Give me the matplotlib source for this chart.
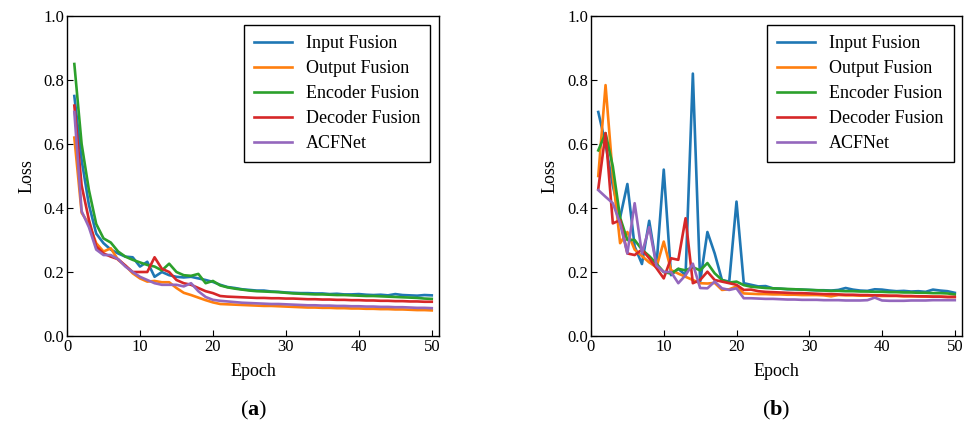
import matplotlib
matplotlib.use("Agg")
import matplotlib.pyplot as plt
import numpy as np

epochs = list(range(1, 51))
series_names = ["Input Fusion", "Output Fusion", "Encoder Fusion",
                "Decoder Fusion", "ACFNet"]
series_colors = ["#1f77b4", "#ff7f0e", "#2ca02c", "#d62728", "#9467bd"]

# (a) loss curves
a_input = [0.75, 0.55, 0.41, 0.32, 0.29, 0.27, 0.258, 0.248, 0.246, 0.217,
           0.232, 0.185, 0.200, 0.190, 0.185, 0.183, 0.185, 0.180, 0.175, 0.169,
           0.160, 0.153, 0.150, 0.146, 0.144, 0.142, 0.142, 0.139, 0.138, 0.136,
           0.135, 0.134, 0.134, 0.133, 0.133, 0.131, 0.132, 0.130, 0.130, 0.131,
           0.129, 0.128, 0.129, 0.127, 0.131, 0.128, 0.127, 0.126, 0.128, 0.127]
a_output = [0.62, 0.385, 0.35, 0.29, 0.264, 0.274, 0.238, 0.22, 0.196, 0.180,
            0.170, 0.172, 0.168, 0.168, 0.150, 0.135, 0.128, 0.120, 0.112, 0.105,
            0.100, 0.099, 0.098, 0.097, 0.096, 0.095, 0.094, 0.094, 0.093, 0.092,
            0.091, 0.090, 0.089, 0.089, 0.088, 0.088, 0.087, 0.087, 0.086, 0.086,
            0.085, 0.085, 0.084, 0.084, 0.083, 0.083, 0.082, 0.081, 0.081, 0.080]
a_encoder = [0.85, 0.60, 0.456, 0.35, 0.305, 0.292, 0.264, 0.248, 0.238, 0.230,
             0.222, 0.217, 0.205, 0.226, 0.200, 0.190, 0.188, 0.194, 0.165, 0.172,
             0.158, 0.152, 0.148, 0.145, 0.142, 0.140, 0.139, 0.138, 0.137, 0.135,
             0.133, 0.132, 0.131, 0.130, 0.130, 0.129, 0.128, 0.128, 0.127, 0.126,
             0.125, 0.125, 0.124, 0.123, 0.122, 0.121, 0.120, 0.119, 0.117, 0.116]
a_decoder = [0.72, 0.47, 0.363, 0.28, 0.258, 0.248, 0.240, 0.220, 0.200, 0.200,
             0.200, 0.246, 0.210, 0.200, 0.175, 0.165, 0.160, 0.150, 0.140, 0.134,
             0.125, 0.123, 0.122, 0.121, 0.120, 0.119, 0.119, 0.118, 0.118, 0.117,
             0.117, 0.116, 0.115, 0.115, 0.114, 0.114, 0.113, 0.113, 0.112, 0.112,
             0.111, 0.111, 0.110, 0.110, 0.109, 0.109, 0.108, 0.108, 0.107, 0.107]
a_acfnet = [0.70, 0.39, 0.34, 0.27, 0.253, 0.253, 0.240, 0.217, 0.200, 0.185,
            0.175, 0.165, 0.160, 0.160, 0.160, 0.155, 0.165, 0.140, 0.122, 0.113,
            0.110, 0.108, 0.106, 0.104, 0.103, 0.102, 0.101, 0.100, 0.100, 0.099,
            0.098, 0.097, 0.096, 0.096, 0.095, 0.095, 0.094, 0.094, 0.093, 0.093,
            0.092, 0.092, 0.091, 0.091, 0.090, 0.090, 0.089, 0.088, 0.088, 0.087]

# (b) loss curves
b_input = [0.70, 0.60, 0.47, 0.37, 0.475, 0.28, 0.225, 0.36, 0.22, 0.52,
           0.19, 0.21, 0.19, 0.82, 0.17, 0.325, 0.258, 0.175, 0.17, 0.42,
           0.165, 0.160, 0.155, 0.156, 0.149, 0.148, 0.146, 0.146, 0.145, 0.144,
           0.143, 0.143, 0.142, 0.144, 0.150, 0.145, 0.142, 0.141, 0.146, 0.145,
           0.142, 0.140, 0.141, 0.139, 0.140, 0.138, 0.145, 0.142, 0.140, 0.135]
b_output = [0.50, 0.784, 0.50, 0.29, 0.325, 0.27, 0.25, 0.23, 0.215, 0.295,
            0.206, 0.195, 0.185, 0.175, 0.165, 0.164, 0.166, 0.144, 0.146, 0.155,
            0.133, 0.132, 0.131, 0.131, 0.130, 0.130, 0.129, 0.129, 0.128, 0.128,
            0.128, 0.127, 0.124, 0.128, 0.127, 0.127, 0.126, 0.126, 0.126, 0.125,
            0.125, 0.125, 0.124, 0.124, 0.124, 0.123, 0.123, 0.123, 0.122, 0.122]
b_encoder = [0.58, 0.634, 0.53, 0.37, 0.30, 0.30, 0.27, 0.25, 0.226, 0.20,
             0.195, 0.21, 0.205, 0.215, 0.205, 0.228, 0.196, 0.175, 0.167, 0.170,
             0.159, 0.154, 0.152, 0.150, 0.149, 0.148, 0.147, 0.146, 0.145, 0.144,
             0.143, 0.142, 0.141, 0.141, 0.140, 0.140, 0.139, 0.139, 0.138, 0.138,
             0.137, 0.137, 0.136, 0.136, 0.135, 0.135, 0.134, 0.134, 0.133, 0.130]
b_decoder = [0.46, 0.634, 0.352, 0.362, 0.258, 0.253, 0.27, 0.243, 0.212, 0.18,
             0.243, 0.238, 0.368, 0.165, 0.175, 0.201, 0.175, 0.170, 0.165, 0.160,
             0.144, 0.145, 0.140, 0.138, 0.137, 0.136, 0.135, 0.134, 0.134, 0.133,
             0.132, 0.131, 0.131, 0.130, 0.129, 0.129, 0.128, 0.128, 0.127, 0.127,
             0.126, 0.126, 0.125, 0.125, 0.124, 0.124, 0.123, 0.123, 0.122, 0.122]
b_acfnet = [0.456, 0.435, 0.415, 0.352, 0.258, 0.415, 0.258, 0.34, 0.22, 0.20,
            0.20, 0.165, 0.19, 0.226, 0.15, 0.149, 0.17, 0.149, 0.144, 0.149,
            0.118, 0.118, 0.117, 0.116, 0.116, 0.115, 0.114, 0.114, 0.113, 0.113,
            0.113, 0.112, 0.112, 0.112, 0.111, 0.111, 0.111, 0.112, 0.120, 0.111,
            0.110, 0.110, 0.110, 0.111, 0.111, 0.111, 0.112, 0.112, 0.112, 0.112]

panel_a = [a_input, a_output, a_encoder, a_decoder, a_acfnet]
panel_b = [b_input, b_output, b_encoder, b_decoder, b_acfnet]

plt.rcParams.update({
    "font.family": ["Liberation Serif", "DejaVu Serif"],
    "mathtext.fontset": "custom",
    "mathtext.rm": "Liberation Serif",
    "mathtext.bf": "Liberation Serif:bold",
})

fig = plt.figure(figsize=(9.66, 4.30), dpi=100)
ax_a = fig.add_axes([0.0694, 0.2186, 0.3851, 0.7442])
ax_b = fig.add_axes([0.6118, 0.2186, 0.3841, 0.7442])

for ax, data, tag in ((ax_a, panel_a, "a"), (ax_b, panel_b, "b")):
    for name, color, vals in zip(series_names, series_colors, data):
        ax.plot(epochs, vals, color=color, lw=1.9, label=name)
    ax.set_xlim(0, 51)
    ax.set_ylim(0, 1.0)
    ax.set_xticks([0, 10, 20, 30, 40, 50])
    ax.set_yticks([0.0, 0.2, 0.4, 0.6, 0.8, 1.0])
    ax.tick_params(direction="in", length=4, labelsize=12, pad=2)
    for sp in ax.spines.values():
        sp.set_linewidth(1.0)
    ax.set_xlabel("Epoch", fontsize=13, labelpad=6)
    ax.set_ylabel("Loss", fontsize=13, labelpad=6)
    leg = ax.legend(loc="upper right", bbox_to_anchor=(0.977, 0.972),
                    borderaxespad=0, fontsize=13, fancybox=False,
                    edgecolor="black", framealpha=1, handlelength=2.1,
                    handletextpad=0.8, labelspacing=0.45, borderpad=0.55)
    leg.get_frame().set_linewidth(1.0)
    pos = ax.get_position()
    fig.text((pos.x0 + pos.x1) / 2, 1 - 410 / 430, f"($\\mathbf{{{tag}}}$)",
             ha="center", va="center", fontsize=16)

fig.savefig("out.png", dpi=100)
